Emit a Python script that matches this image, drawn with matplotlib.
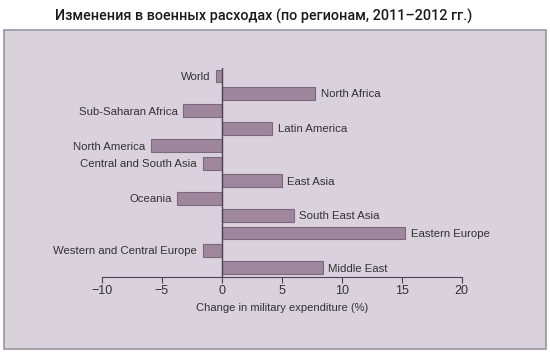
import matplotlib
matplotlib.use("Agg")
from matplotlib import pyplot as plt
from matplotlib.patches import Rectangle

# regions from top to bottom and change in military expenditure, %
regions = ["World", "North Africa", "Sub-Saharan Africa", "Latin America",
           "North America", "Central and South Asia", "East Asia", "Oceania",
           "South East Asia", "Eastern Europe", "Western and Central Europe",
           "Middle East"]
change = [-0.5, 7.8, -3.2, 4.2, -5.9, -1.6, 5.0, -3.7, 6.0, 15.3, -1.6, 8.4]

xticks = [-10, -5, 0, 5, 10, 15, 20]
xticklabels = ["\u221210", "\u22125", "0", "5", "10", "15", "20"]

title = "Изменения в военных расходах (по регионам, 2011–2012 гг.)"
xlabel = "Change in military expenditure (%)"

panel_col = "#d9d1dc"
bar_col = "#9e879c"
edge_col = "#7d677b"
text_col = "#333036"

plt.rcParams['font.family'] = ['Liberation Sans', 'DejaVu Sans']

fig = plt.figure(figsize=(5.5, 3.54), dpi=100)
fig.patch.set_facecolor("white")

# panel behind the chart
fig.patches.append(Rectangle((4 / 550, 5 / 354), 542 / 550, 319 / 354,
                             transform=fig.transFigure, facecolor=panel_col,
                             edgecolor="#9a94a0", linewidth=1.2, zorder=-5))

fig.text(0.479, 0.953, title, ha="center", va="center", fontsize=10.4,
         family=["Roboto", "DejaVu Sans"], fontweight="medium", color="#1a1a1a")

ax = fig.add_axes([101.7 / 550, 77 / 354, 360 / 550, 209 / 354])
ax.set_facecolor("none")

ypos = list(range(len(regions)))
ax.barh(ypos, change, height=0.74, color=bar_col, edgecolor=edge_col, linewidth=0.8)

for y, v, name in zip(ypos, change, regions):
    if v < 0:
        ax.text(v - 0.45, y + 0.05, name, ha="right", va="center", fontsize=8.2, color=text_col)
    else:
        ax.text(v + 0.45, y + 0.05, name, ha="left", va="center", fontsize=8.2, color=text_col)

ax.axvline(0, color="#4a4450", linewidth=1)
ax.set_xlim(-10, 20)
ax.set_ylim(11.52, -0.46)
ax.set_yticks([])
ax.set_xticks(xticks)
ax.set_xticklabels(xticklabels, fontsize=9, color=text_col)
ax.tick_params(axis="x", direction="out", length=4, width=0.8, color="#4a4450", pad=2)
ax.set_xlabel(xlabel, fontsize=8, color=text_col, labelpad=4)

for side in ["left", "top", "right"]:
    ax.spines[side].set_visible(False)
ax.spines["bottom"].set_color("#4a4450")
ax.spines["bottom"].set_linewidth(0.8)

fig.savefig("out.png", dpi=100)
